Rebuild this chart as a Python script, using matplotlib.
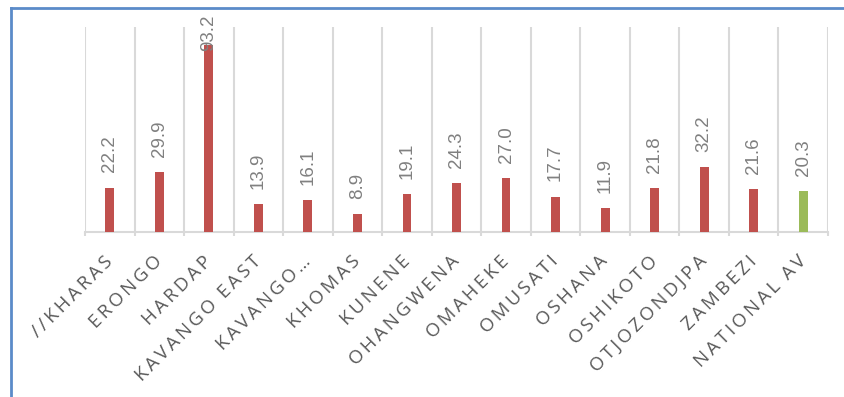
import numpy as np
import matplotlib
matplotlib.use("Agg")
import matplotlib.pyplot as plt
from matplotlib.lines import Line2D

# ------------------------------------------------------------
# Data
# ------------------------------------------------------------
regions = ["//KHARAS", "ERONGO", "HARDAP", "KAVANGO EAST", "KAVANGO\u2026",
           "KHOMAS", "KUNENE", "OHANGWENA", "OMAHEKE", "OMUSATI",
           "OSHANA", "OSHIKOTO", "OTJOZONDJPA", "ZAMBEZI", "NATIONAL AV"]
values = [22.2, 29.9, 93.2, 13.9, 16.1, 8.9, 19.1, 24.3, 27.0, 17.7,
          11.9, 21.8, 32.2, 21.6, 20.3]

RED = "#C0504D"
GREEN = "#9BBB59"
GRID = "#D9D9D9"

colors = [RED] * (len(values) - 1) + [GREEN]


def spaced(text):
    # widen the letters a little
    words = text.split(" ")
    return "  ".join("\u2009".join(w) for w in words)


# ------------------------------------------------------------
# Figure
# ------------------------------------------------------------
fig = plt.figure(figsize=(8.44, 3.97), dpi=100)
ax = fig.add_axes([85 / 844, 1 - 232.3 / 397, (828 - 85) / 844, (232.3 - 27) / 397])

x = np.arange(len(values))
ax.bar(x, values, width=0.18, color=colors, zorder=3)

ymax = 102
ax.set_xlim(-0.5, len(values) - 0.5)
ax.set_ylim(0, ymax)

# vertical separators between categories
ax.set_xticks(np.arange(-0.5, len(values), 1.0), minor=True)
ax.grid(True, which="minor", axis="x", color=GRID, linewidth=1.5, zorder=0)
ax.tick_params(axis="x", which="minor", length=3, color=GRID, width=1.5)
ax.set_xticks(x)
ax.set_xticklabels([spaced(r) for r in regions], rotation=45, ha="right",
                   va="center", rotation_mode="anchor",
                   fontsize=13.5, color="#595959",
                   family=["Open Sans", "DejaVu Sans"])
ax.tick_params(axis="x", which="major", length=0, pad=19)
ax.set_yticks([])

for side in ["left", "right", "top"]:
    ax.spines[side].set_visible(False)
ax.spines["bottom"].set_color(GRID)
ax.spines["bottom"].set_linewidth(1.5)

# value labels above each bar
for xi, v in zip(x, values):
    if v > 80:
        ax.annotate(f"{v:.1f}", xy=(xi, ymax), xytext=(0, 9),
                    textcoords="offset points", rotation=90,
                    ha="center", va="top", fontsize=13.5, color="#808080",
                    family="Liberation Sans", annotation_clip=False, zorder=4)
    else:
        ax.annotate(f"{v:.1f}", xy=(xi, v), xytext=(0, 11),
                    textcoords="offset points", rotation=90,
                    ha="center", va="bottom", fontsize=13.5, color="#808080",
                    family="Liberation Sans", zorder=4)

# blue frame on the left and top edges
fig.add_artist(Line2D([10.5 / 844, 10.5 / 844], [0, 1 - 7.5 / 397],
                      transform=fig.transFigure, color="#5B8BC9", linewidth=2))
fig.add_artist(Line2D([10.5 / 844, 1], [1 - 7.5 / 397, 1 - 7.5 / 397],
                      transform=fig.transFigure, color="#5B8BC9", linewidth=2))

fig.savefig("out.png", dpi=100)
